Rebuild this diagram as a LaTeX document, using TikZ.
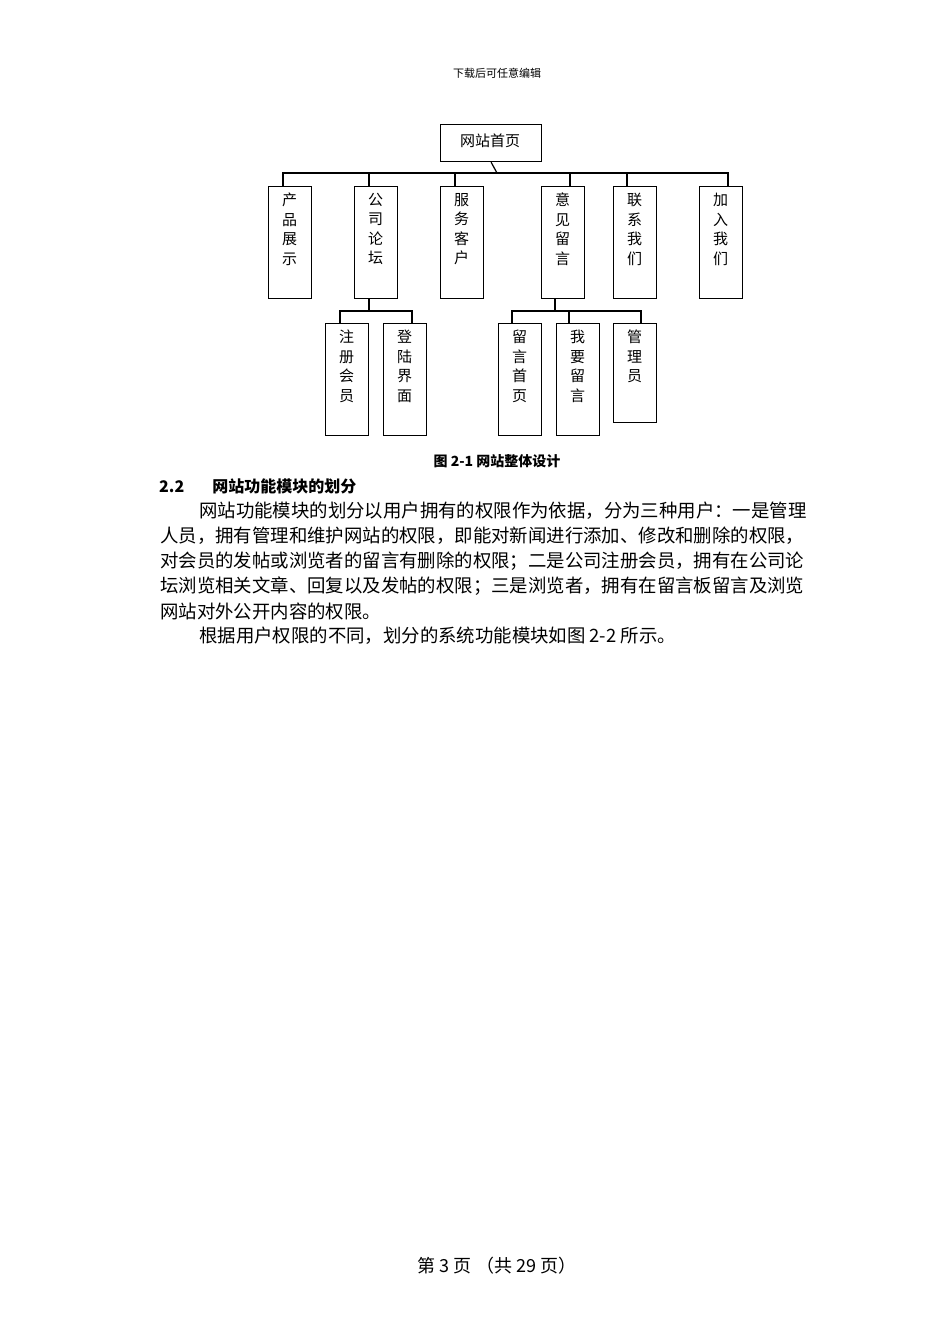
\documentclass[tikz,border=0pt]{standalone}
\usepackage{fontspec}
\newfontfamily\cjk{Noto Sans CJK SC}
\tikzset{
 bx/.style={draw,line width=1.2pt,anchor=north west,inner sep=0pt},
 vt/.style={font=\cjk\fontsize{15}{19.5}\selectfont,align=center,anchor=north,inner sep=0pt},
 ln/.style={line width=1.2pt},
 body/.style={font=\cjk\fontsize{18.4}{20}\selectfont,anchor=west,inner sep=0pt}
}
\begin{document}
\begin{tikzpicture}[x=1pt,y=-1pt]
\useasboundingbox[fill=white] (0,0) rectangle (950,1344);
\node[font=\cjk\fontsize{11}{13}\selectfont] (hd) at (497,73) {下载后可任意编辑};
% top
\node[bx,minimum width=101pt,minimum height=37pt] (top) at (440,124) {};
\node[font=\cjk\fontsize{15}{18}\selectfont] (topt) at (490,141) {网站首页};
% level 2
\foreach \n/\x/\t in {a/268/产\\品\\展\\示,b/354/公\\司\\论\\坛,c/440/服\\务\\客\\户,d/541/意\\见\\留\\言,e/613/联\\系\\我\\们,f/699/加\\入\\我\\们}{
 \node[bx,minimum width=43pt,minimum height=112pt] (\n) at (\x,186) {};
 \node[vt] (\n t) at (\x+21.5,193) {\t};
}
% level 3
\foreach \n/\x/\h/\t in {g/325/112/注\\册\\会\\员,h/383/112/登\\陆\\界\\面,i/498/112/留\\言\\首\\页,j/556/112/我\\要\\留\\言,k/613/99/管\\理\\员}{
 \node[bx,minimum width=43pt,minimum height=\h pt] (\n) at (\x,323) {};
 \node[vt] (\n t) at (\x+21.5,330) {\t};
}
% connectors
\coordinate (b1) at (497,173);
\draw[ln] (top.south) -- (b1);
\draw[ln] (283,186) |- (728,173) -- (728,186);
\foreach \x in {369,455,570,627}{\draw[ln] (\x,173) -- (\x,186);}
\draw[ln] (369,298) -- (369,311);
\draw[ln] (340,323) |- (412,311) -- (412,323);
\draw[ln] (555,298) -- (555,311);
\draw[ln] (512,323) |- (641,311) -- (641,323);
\draw[ln] (569,311) -- (569,323);
% caption
\node[font=\cjk\bfseries\fontsize{14}{16}\selectfont] (cap) at (497,461) {图 2-1 网站整体设计};
\node[font=\cjk\bfseries\fontsize{16}{18}\selectfont,anchor=west,inner sep=0pt] (sec) at (159,486) {2.2\hspace{28pt}网站功能模块的划分};
\node[body] (l1) at (199,511) {网站功能模块的划分以用户拥有的权限作为依据，分为三种用户：一是管理};
\node[body] (l2) at (160,536) {人员，拥有管理和维护网站的权限，即能对新闻进行添加、修改和删除的权限，};
\node[body] (l3) at (160,561) {对会员的发帖或浏览者的留言有删除的权限；二是公司注册会员，拥有在公司论};
\node[body] (l4) at (160,586) {坛浏览相关文章、回复以及发帖的权限；三是浏览者，拥有在留言板留言及浏览};
\node[body] (l5) at (160,611) {网站对外公开内容的权限。};
\node[body] (l6) at (199,636) {根据用户权限的不同，划分的系统功能模块如图 2-2 所示。};
\node[font=\cjk\fontsize{18}{20}\selectfont] (ft) at (497,1266) {第 3 页 （共 29 页）};
\end{tikzpicture}
\end{document}
